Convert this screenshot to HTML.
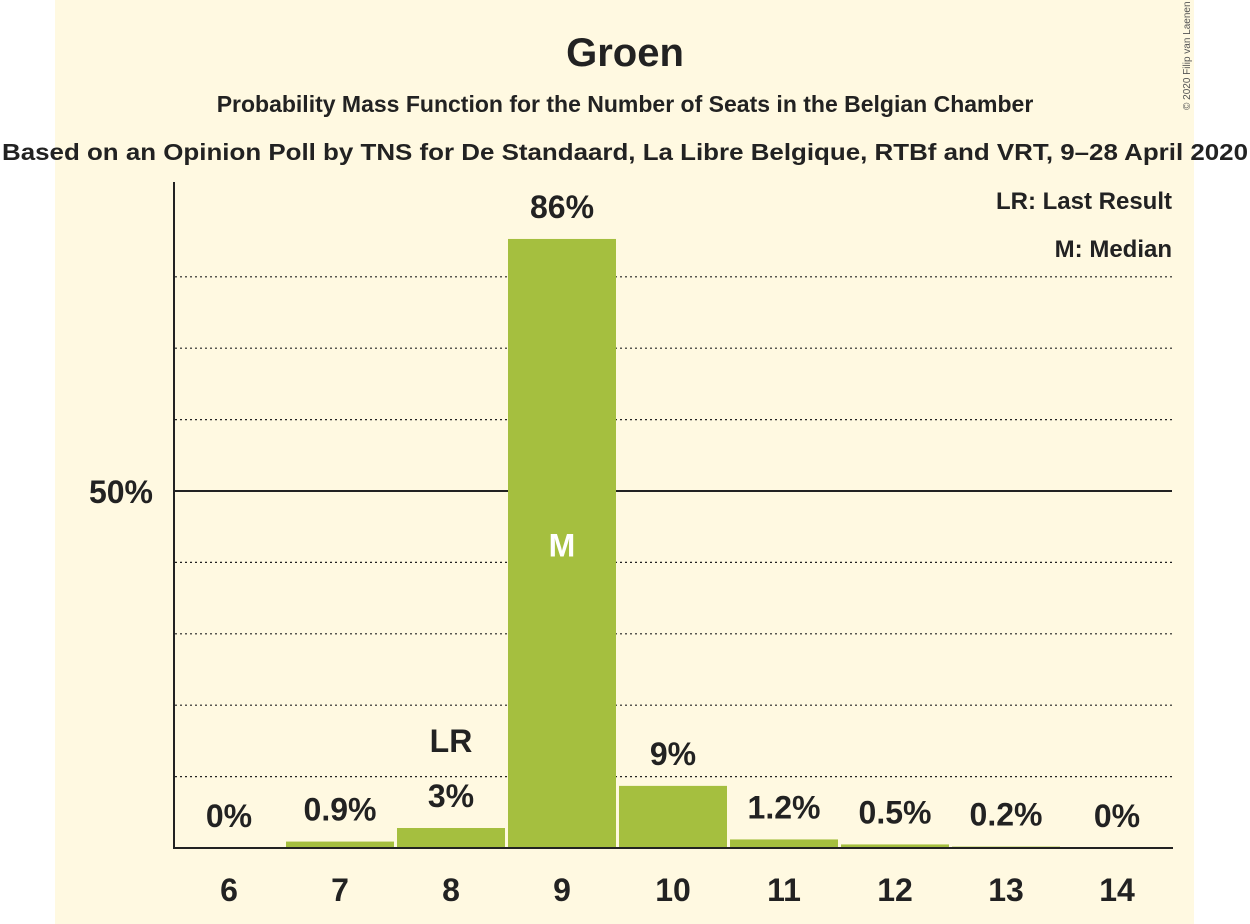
<!DOCTYPE html>
<html><head><meta charset="utf-8"><style>
html,body{margin:0;padding:0;background:#fff;}
svg{display:block;font-family:"Liberation Sans",sans-serif;}
</style></head><body>
<svg id="chart" width="1250" height="924" xmlns="http://www.w3.org/2000/svg">
<rect x="55" y="0" width="1139" height="924" fill="#FFF9E1"/>
<text x="625" y="66" text-anchor="middle" font-size="40" font-weight="bold" fill="#222">Groen</text>
<text x="625" y="112" text-anchor="middle" font-size="23" font-weight="bold" fill="#222">Probability Mass Function for the Number of Seats in the Belgian Chamber</text>
<text x="625" y="160" text-anchor="middle" font-size="23" font-weight="bold" fill="#222" textLength="1246" lengthAdjust="spacingAndGlyphs">Based on an Opinion Poll by TNS for De Standaard, La Libre Belgique, RTBf and VRT, 9–28 April 2020</text>
<text transform="translate(1190,110) rotate(-90)" font-size="10" fill="#555">© 2020 Filip van Laenen</text>
<text x="1172" y="209" text-anchor="end" font-size="24" font-weight="bold" fill="#222">LR: Last Result</text>
<text x="1172" y="257" text-anchor="end" font-size="24" font-weight="bold" fill="#222">M: Median</text>
<g id="grid"></g>
<g id="bars"></g>
<g id="labels"></g>
<line x1="174" y1="182" x2="174" y2="849" stroke="#222" stroke-width="2"/>
<line x1="173" y1="848" x2="1173" y2="848" stroke="#222" stroke-width="2"/>
<text x="153" y="503" text-anchor="end" font-size="32" font-weight="bold" fill="#222">50%</text>
</svg>
<script>
const categories = [6,7,8,9,10,11,12,13,14];
const values = [0,0.9,2.8,85.3,8.7,1.2,0.5,0.2,0];
const valueLabels = ["0%","0.9%","3%","86%","9%","1.2%","0.5%","0.2%","0%"];
const lastResult = 8;
const median = 9;
const gridTicks = [10,20,30,40,50,60,70,80];

const NS="http://www.w3.org/2000/svg";
const x0=229, step=111, barW=108;
function xPos(i){return x0+i*step;}
function yPos(v){return 848-v*7.14;}
function mk(t,a,parent,txt){const e=document.createElementNS(NS,t);for(const k in a)e.setAttribute(k,a[k]);if(txt!==undefined)e.textContent=txt;document.getElementById(parent).appendChild(e);return e;}

gridTicks.forEach(t=>{
  const l=mk('line',{x1:175,x2:1172,y1:yPos(t),y2:yPos(t),stroke:'#222','stroke-width':t===50?2:1.2,'stroke-dasharray':t===50?'none':'2,3'},'grid');
  
  
});
categories.forEach((c,i)=>{
  const v=values[i], cx=xPos(i);
  if(v>0){
    const r=mk('rect',{x:cx-barW/2,y:yPos(v),width:barW,height:848-yPos(v),fill:'#A5BF3F'},'bars');
    
    
  }
  const ty=yPos(v)-21;
  const lbl=mk('text',{x:cx,y:ty,'text-anchor':'middle','font-size':32,'font-weight':'bold',fill:'#222'},'labels',valueLabels[i]);
  
  
  const tk=mk('text',{x:cx,y:901,'text-anchor':'middle','font-size':32,'font-weight':'bold',fill:'#222'},'labels',String(c));
  
  
  if(c===lastResult){
    const lr=mk('text',{x:cx,y:ty-55,'text-anchor':'middle','font-size':32,'font-weight':'bold',fill:'#222'},'labels','LR');
    
    
  }
  if(c===median){
    const m=mk('text',{x:cx,y:yPos(v/2)+13,'text-anchor':'middle','font-size':32,'font-weight':'bold',fill:'#fff'},'labels','M');
    
    
  }
});
</script>
</body></html>
